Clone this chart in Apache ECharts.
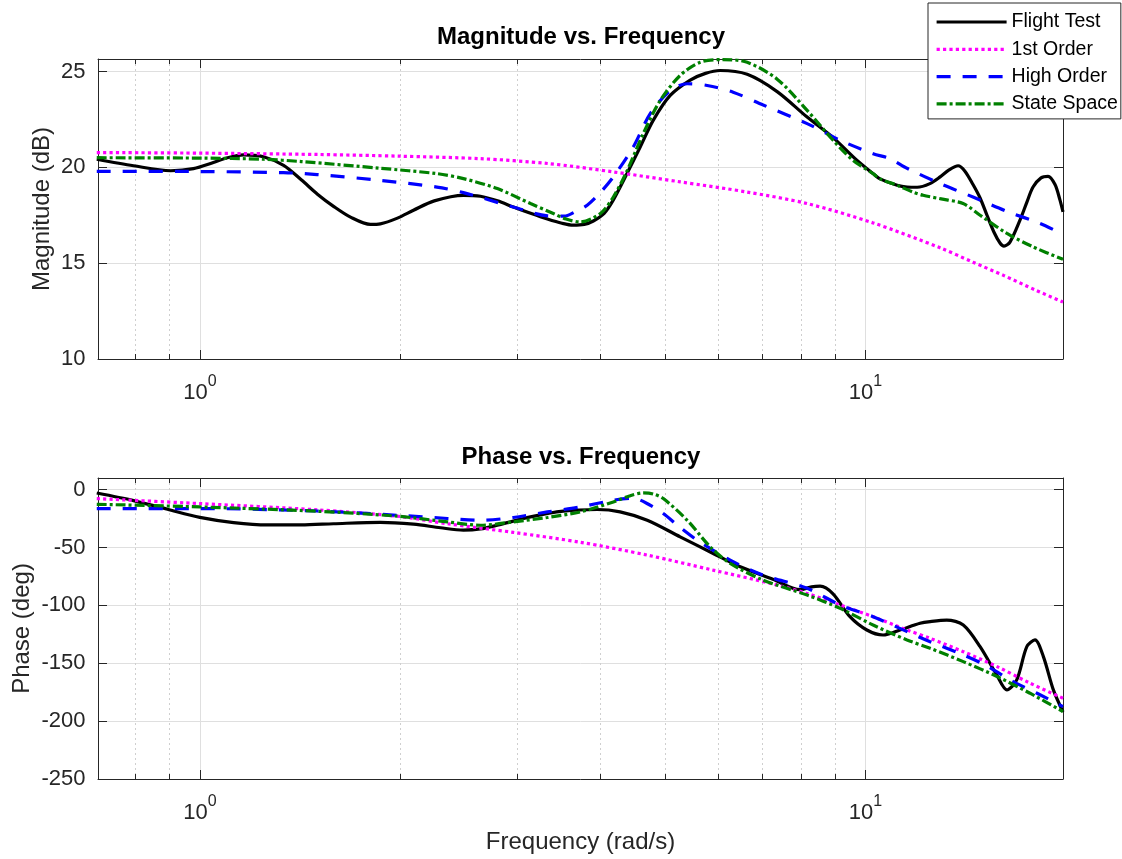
<!DOCTYPE html>
<html><head><meta charset="utf-8">
<script src="https://cdn.jsdelivr.net/npm/echarts@6/dist/echarts.min.js"></script>
<style>html,body{margin:0;padding:0;background:#fff}#c{width:1122px;height:859px}</style>
</head><body><div id="c"></div>
<script>
// ---------- data ----------
const seriesNames = ['Flight Test', '1st Order', 'High Order', 'State Space'];

const ftMagFreq = [0.70,0.795,0.904,0.978,1.048,1.10,1.163,1.246,1.336,1.42,1.502,1.59,1.684,1.804,1.867,1.981,2.094,2.25,2.489,2.64,2.80,2.958,3.14,3.328,3.50,3.64,3.78,3.901,4.05,4.181,4.387,4.588,4.799,5.09,5.455,5.75,6.05,6.643,7.368,8.174,8.943,9.716,10.27,10.50,11.16,11.55,11.96,12.50,12.95,13.34,13.78,14.11,14.51,14.87,15.23,15.61,15.93,16.15,16.49,17.07,17.49,17.86,18.36,18.81,19.27,19.60,19.81];
const ftMag = [20.42,20.08,19.82,19.93,20.25,20.5,20.65,20.55,20.1,19.35,18.6,17.95,17.4,17.02,17.05,17.35,17.76,18.25,18.54,18.49,18.25,17.93,17.6,17.3,17.08,16.98,17.02,17.2,17.6,18.3,19.7,21.06,22.45,23.75,24.55,24.9,25.05,24.85,23.95,22.62,21.55,20.36,19.67,19.41,19.06,18.97,18.96,19.15,19.5,19.85,20.08,19.8,19.1,18.4,17.5,16.6,16.05,15.89,16.1,17.24,18.2,18.97,19.45,19.53,19.1,18.3,17.67];

const foMagFreq = [0.7,1.0,1.5,2.0,2.64,3.33,4.18,5.27,6.64,8.17,10.27,12.95,14.51,16.15,18.0,19.81];
const foMag = [20.77,20.74,20.67,20.58,20.45,20.2,19.76,19.24,18.71,18.11,17.1,15.8,15.05,14.35,13.6,12.97];

const hoMagFreq = [0.7,1.0,1.336,1.50,1.867,2.27,2.489,2.958,3.328,3.529,3.65,3.819,4.0,4.181,4.479,4.75,5.09,5.398,5.785,6.328,7.022,8.174,9.163,10.27,10.89,11.55,12.95,14.51,16.32,18.30,19.81];
const hoMag = [19.79,19.78,19.72,19.62,19.32,18.97,18.68,17.93,17.47,17.45,17.65,18.02,18.7,19.5,21.06,22.8,24.0,24.36,24.27,23.92,23.25,22.28,21.41,20.71,20.45,19.95,19.15,18.45,17.7,17.07,16.5];

const ssMagFreq = [0.7,1.0,1.246,1.42,1.867,2.27,2.489,2.799,3.139,3.397,3.55,3.729,3.998,4.181,4.387,4.637,4.918,5.268,5.647,6.114,6.643,7.368,8.174,8.943,9.583,10.27,10.5,11.16,11.79,12.21,13.0,14.02,14.87,16.32,17.86,19.81];
const ssMag = [20.5,20.48,20.42,20.3,19.95,19.67,19.41,18.89,18.11,17.59,17.3,17.15,17.59,18.45,19.84,21.76,23.49,24.79,25.48,25.62,25.48,24.6,22.97,21.41,20.36,19.67,19.41,19.06,18.71,18.54,18.35,18.11,17.5,16.55,15.85,15.2];

const ftPhFreq = [0.70,0.795,0.894,1.0,1.124,1.264,1.42,1.588,1.867,2.094,2.30,2.489,2.64,2.799,3.139,3.517,3.955,4.28,4.701,5.268,5.906,6.485,7.26,7.98,8.3,8.55,8.94,9.48,10.05,10.63,11.27,12.08,12.51,13.25,14.03,14.87,15.75,16.31,16.88,17.48,17.98,18.51,19.16,19.81];
const ftPh = [-3,-9.5,-17,-24,-28.5,-30.5,-30.5,-29.5,-28.3,-29.9,-33,-35,-34,-30.8,-23.6,-18.6,-17.2,-19.3,-26.5,-40.8,-55.2,-66.7,-77.5,-86.5,-84,-83.4,-90,-109.8,-121.3,-125.6,-121.3,-115.5,-114,-112.7,-117,-135.7,-160.1,-173,-164.4,-135.7,-129.9,-144.3,-173,-192];

const foPhFreq = [0.7,1.0,1.5,1.98,2.355,2.958,3.73,4.70,5.906,7.26,8.17,9.16,10.27,11.55,12.51,14.03,15.77,17.67,19.81];
const foPh = [-7.8,-12.1,-17.5,-23,-29.5,-37,-45.5,-56.6,-69.6,-81.5,-89.7,-99.7,-109.8,-121.3,-128.5,-140,-152.9,-167.2,-180.2];

const hoPhFreq = [0.7,1.0,1.5,1.98,2.355,2.64,2.958,3.328,3.729,4.181,4.48,4.75,4.97,5.25,5.588,6.264,7.022,8.174,9.163,10.27,11.55,12.51,14.03,15.29,16.67,18.11,19.81];
const hoPh = [-16.4,-16.4,-18.5,-22.2,-25,-26.5,-24.1,-19.3,-15,-9.2,-7.5,-13.5,-20.7,-32,-43.7,-61,-73.9,-85.3,-99.7,-109.8,-122.7,-131.4,-142.8,-152.9,-165.9,-175.9,-187.5];

const ssPhFreq = [0.7,1.0,1.5,1.98,2.355,2.64,2.958,3.328,3.729,4.181,4.42,4.637,4.80,4.97,5.398,5.846,6.264,7.022,8.174,9.163,10.27,11.55,12.51,14.03,15.77,17.67,19.81];
const ssPh = [-12.7,-15,-18.7,-23,-27.9,-30.8,-27.9,-24.1,-19.3,-10.7,-5.5,-2.9,-3.8,-7.8,-26.5,-49.5,-63.8,-78.2,-91.1,-102.6,-117,-129.9,-137.1,-148.6,-161.5,-175.9,-191.7];

const freqMajorTicks = [1, 10];
const freqMinorTicks = [0.8, 0.9, 2, 3, 4, 5, 6, 7, 8, 9];
const magTicks = [10, 15, 20, 25];
const phaseTicks = [-250, -200, -150, -100, -50, 0];

// ---------- styles ----------
const FONT = '"Liberation Sans", Arial, Helvetica, sans-serif';
const AX = '#262626';
const GRID_C = '#dfdfdf';
const MINOR_C = '#cfcfcf';
const LW = 3.2;
const X_MIN = 0.703, X_MAX = 19.81;
const colors = ['#000000', '#ff00ff', '#0000ff', '#008000'];
const dashes = ['solid', [3.2, 3.2], [14, 12], [10, 3, 3, 3]];

const pairs = (f, v) => f.map((x, i) => [x, v[i]]);

function xAxesFor(g, withName) {
  const base = { type: 'log', logBase: 10, gridIndex: g, min: X_MIN, max: X_MAX };
  return [
    Object.assign({}, base, {
      position: 'bottom',
      axisLine: { show: true, onZero: false, lineStyle: { color: AX, width: 1 } },
      axisTick: { show: true, inside: true, length: 9, customValues: freqMajorTicks, lineStyle: { color: AX, width: 1 } },
      axisLabel: {
        show: true, customValues: freqMajorTicks, margin: 15,
        formatter: v => '{b|10}{s|' + Math.round(Math.log10(v)) + '}',
        rich: {
          b: { fontSize: 22, fontFamily: FONT, color: AX, lineHeight: 30, verticalAlign: 'bottom' },
          s: { fontSize: 16, fontFamily: FONT, color: AX, lineHeight: 14, verticalAlign: 'top' }
        }
      },
      splitLine: { show: true, lineStyle: { color: GRID_C, width: 1 } },
      name: withName ? 'Frequency (rad/s)' : '', nameLocation: 'middle', nameGap: 51,
      nameMoveOverlap: false,
      nameTextStyle: { fontSize: 24, fontFamily: FONT, color: AX }
    }),
    Object.assign({}, base, {
      position: 'top',
      axisLine: { show: true, onZero: false, lineStyle: { color: AX, width: 1 } },
      axisTick: { show: true, inside: true, length: 9, customValues: freqMajorTicks, lineStyle: { color: AX, width: 1 } },
      axisLabel: { show: false }, splitLine: { show: false }
    }),
    Object.assign({}, base, {
      position: 'bottom',
      axisLine: { show: false, onZero: false },
      axisTick: { show: true, inside: true, length: 5, customValues: freqMinorTicks, lineStyle: { color: AX, width: 1 } },
      axisLabel: { show: false },
      splitLine: { show: true, lineStyle: { color: MINOR_C, width: 1, type: [2, 3] } }
    }),
    Object.assign({}, base, {
      position: 'top',
      axisLine: { show: false, onZero: false },
      axisTick: { show: true, inside: true, length: 5, customValues: freqMinorTicks, lineStyle: { color: AX, width: 1 } },
      axisLabel: { show: false }, splitLine: { show: false }
    })
  ];
}

function yAxesFor(g, min, max, ticks, name, gap) {
  return [
    {
      type: 'value', gridIndex: g, min, max, position: 'left',
      axisLine: { show: true, onZero: false, lineStyle: { color: AX, width: 1 } },
      axisTick: { show: true, inside: true, length: 9, customValues: ticks, lineStyle: { color: AX, width: 1 } },
      axisLabel: { show: true, customValues: ticks, margin: 12.5, fontSize: 22, fontFamily: FONT, color: AX },
      splitLine: { show: true, lineStyle: { color: GRID_C, width: 1 } },
      name, nameLocation: 'middle', nameGap: gap, nameRotate: 90, nameMoveOverlap: false,
      nameTextStyle: { fontSize: 24, fontFamily: FONT, color: AX }
    },
    {
      type: 'value', gridIndex: g, min, max, position: 'right',
      axisLine: { show: true, onZero: false, lineStyle: { color: AX, width: 1 } },
      axisTick: { show: true, inside: true, length: 9, customValues: ticks, lineStyle: { color: AX, width: 1 } },
      axisLabel: { show: false }, splitLine: { show: false }
    }
  ];
}

function line(idx, xi, yi, f, v) {
  return {
    name: seriesNames[idx], type: 'line', xAxisIndex: xi, yAxisIndex: yi,
    data: pairs(f, v), symbol: 'none', showSymbol: false, smooth: 0.3, clip: true,
    silent: true, animation: false,
    lineStyle: { color: colors[idx], width: LW, type: dashes[idx], cap: 'butt' },
    itemStyle: { color: colors[idx] }
  };
}

const chart = echarts.init(document.getElementById('c'), null, { renderer: 'canvas' });
chart.setOption({
  animation: false,
  backgroundColor: '#ffffff',
  title: [
    { text: 'Magnitude vs. Frequency', left: 581, top: 25, textAlign: 'center', padding: 0,
      textStyle: { fontSize: 24, fontWeight: 'bold', color: '#000', fontFamily: FONT, lineHeight: 24 } },
    { text: 'Phase vs. Frequency', left: 581, top: 445, textAlign: 'center', padding: 0,
      textStyle: { fontSize: 24, fontWeight: 'bold', color: '#000', fontFamily: FONT, lineHeight: 24 } }
  ],
  legend: {
    data: seriesNames, orient: 'vertical', left: 928, top: 3,
    itemWidth: 70, itemHeight: 20, itemGap: 7.3, padding: [9, 3, 5, 7],
    backgroundColor: '#ffffff', borderColor: AX, borderWidth: 1, borderRadius: 0,
    selectedMode: false,
    lineStyle: { width: LW },
    itemStyle: { opacity: 0, borderWidth: 0 },
    textStyle: { fontSize: 19.5, fontFamily: FONT, color: '#000', lineHeight: 20 }
  },
  grid: [
    { left: 98, top: 59, width: 965, height: 300, containLabel: false, outerBoundsMode: 'none' },
    { left: 98, top: 478, width: 965, height: 301, containLabel: false, outerBoundsMode: 'none' }
  ],
  xAxis: xAxesFor(0, false).concat(xAxesFor(1, true)),
  yAxis: yAxesFor(0, 10, 25.65, magTicks, 'Magnitude (dB)', 44)
    .concat(yAxesFor(1, -250, 10, phaseTicks, 'Phase (deg)', 63.5)),
  series: [
    line(0, 0, 0, ftMagFreq, ftMag),
    line(1, 0, 0, foMagFreq, foMag),
    line(2, 0, 0, hoMagFreq, hoMag),
    line(3, 0, 0, ssMagFreq, ssMag),
    line(0, 4, 2, ftPhFreq, ftPh),
    line(1, 4, 2, foPhFreq, foPh),
    line(2, 4, 2, hoPhFreq, hoPh),
    line(3, 4, 2, ssPhFreq, ssPh)
  ]
});
</script></body></html>
